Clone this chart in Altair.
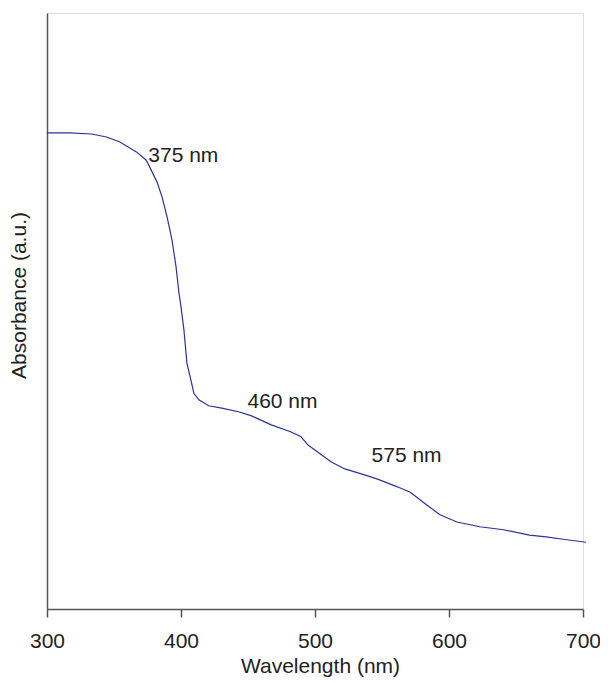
import altair as alt
import pandas as pd

# Spectrum (wavelength in nm, absorbance in a.u.)
wavelength = [300, 317, 333.3, 344.4, 354.1, 366.7, 374.1, 378.5, 382.2, 385.9,
              389.6, 393.3, 396.3, 398.5, 400, 402.2, 404.4, 407.4, 409.6, 413.3,
              420.7, 430.4, 443, 452.6, 467.4, 482.2, 489.6, 494.8, 502.2, 511.9,
              522.2, 537, 546.7, 561.5, 571.1, 583.7, 593.3, 605.9, 623, 640.7,
              660, 672.6, 685.2, 702.2]
absorbance = [0.799, 0.799, 0.797, 0.792, 0.784, 0.767, 0.753, 0.733, 0.716, 0.691,
              0.658, 0.619, 0.574, 0.530, 0.507, 0.468, 0.413, 0.384, 0.362, 0.351,
              0.341, 0.337, 0.331, 0.324, 0.309, 0.297, 0.289, 0.275, 0.263, 0.247,
              0.235, 0.225, 0.218, 0.205, 0.196, 0.174, 0.158, 0.146, 0.138, 0.133,
              0.124, 0.121, 0.117, 0.112]

# Peak annotations
ann_text = ["375 nm", "460 nm", "575 nm"]
ann_x = [375.6, 449.6, 542.2]
ann_y = [0.750, 0.337, 0.2466]

x_ticks = [300, 400, 500, 600, 700]

df = pd.DataFrame({"wavelength": wavelength, "absorbance": absorbance})
ann = pd.DataFrame({"label": ann_text, "x": ann_x, "y": ann_y})

FONT = "Liberation Sans"

xscale = alt.Scale(domain=[300, 700], nice=False, zero=False)
yscale = alt.Scale(domain=[0, 1], nice=False, zero=False)

line = alt.Chart(df).mark_line(color="#2b3399", strokeWidth=1.2, clip=False).encode(
    x=alt.X("wavelength:Q", scale=xscale,
            axis=alt.Axis(title="Wavelength (nm)", values=x_ticks, grid=False,
                          tickSize=8, tickColor="#555555", tickWidth=1.5,
                          domainColor="#555555", domainWidth=1.5,
                          labelFlush=False, labelOverlap=False,
                          labelFont=FONT, labelFontSize=21, labelColor="#222222",
                          labelPadding=13, titleFont=FONT, titleFontSize=21,
                          titleFontWeight="normal", titleColor="#222222",
                          titlePadding=4, titleX=273)),
    y=alt.Y("absorbance:Q", scale=yscale,
            axis=alt.Axis(title="Absorbance (a.u.)", ticks=False, labels=False,
                          grid=False, domainColor="#555555", domainWidth=1.5,
                          titleFont=FONT, titleFontSize=21, titleFontWeight="normal",
                          titleColor="#222222", titlePadding=18, titleY=282)),
)

labels = alt.Chart(ann).mark_text(
    align="left", baseline="alphabetic", font=FONT, fontSize=21, color="#222222"
).encode(
    x=alt.X("x:Q", scale=xscale),
    y=alt.Y("y:Q", scale=yscale),
    text="label:N",
)

chart = alt.layer(line, labels).properties(
    width=536, height=596,
    autosize=alt.AutoSizeParams(type="none"),
    padding={"left": 39, "top": 5, "right": 17, "bottom": 69},
).configure_view(stroke=None).configure(background="white")

chart.save("out.html", embed_options={"renderer": "svg", "actions": False})
